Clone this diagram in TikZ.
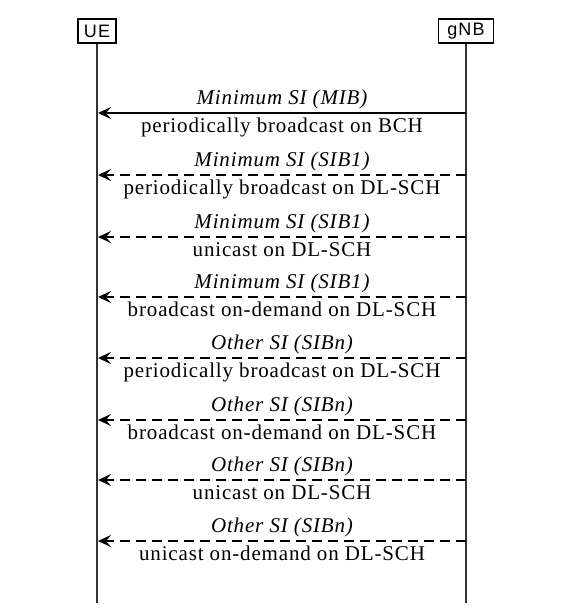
\documentclass[tikz,border=0pt]{standalone}
\usepackage{fontspec}
\setmainfont{Liberation Serif}[LetterSpace=4]
\newfontfamily\boxfont{Liberation Sans}[LetterSpace=6]
\usetikzlibrary{arrows.meta}
\tikzset{
  entity/.style={draw,line width=1.3pt,inner sep=0pt,minimum height=24pt,font=\boxfont\fontsize{18}{20}\selectfont},
  msgtop/.style={font=\itshape\fontsize{21}{23}\selectfont,anchor=base,yshift=9pt,inner sep=0pt},
  msgbot/.style={font=\fontsize{21}{23}\selectfont,anchor=base,yshift=-19pt,inner sep=0pt},
  life/.style={line width=1.7pt,black!80},
  sig/.style={line width=1.5pt,-{Stealth[length=13pt,width=12pt,inset=5pt]}},
  sigd/.style={sig,dash pattern=on 10pt off 6pt}
}
\begin{document}
\begin{tikzpicture}[x=1pt,y=-1pt]
              \useasboundingbox (0,0) rectangle (572,616);
              \node[entity,minimum width=38pt](ue)at(97,31){UE};
              \node[entity,minimum width=55pt](gnb)at(466,31){gNB};
              \coordinate(ueend)at(97,603);
              \coordinate(gnbend)at(466,603);
              \draw[life](ue)--(ueend);
              \draw[life](gnb)--(gnbend);
              % minimum SI
              \coordinate(g1)at(466,113);\coordinate(u1)at(98,113);
              \draw[sig](g1)--(u1) node[midway,msgtop]{Minimum SI (MIB)} node[midway,msgbot]{periodically broadcast on BCH};
              \coordinate(g2)at(466,175);\coordinate(u2)at(98,175);
              \draw[sigd](g2)--(u2) node[midway,msgtop]{Minimum SI (SIB1)} node[midway,msgbot]{periodically broadcast on DL-SCH};
              \coordinate(g3)at(466,237);\coordinate(u3)at(98,237);
              \draw[sigd](g3)--(u3) node[midway,msgtop]{Minimum SI (SIB1)} node[midway,msgbot]{unicast on DL-SCH};
              \coordinate(g4)at(466,297);\coordinate(u4)at(98,297);
              \draw[sigd](g4)--(u4) node[midway,msgtop]{Minimum SI (SIB1)} node[midway,msgbot]{broadcast on-demand on DL-SCH};
              % other SI
              \coordinate(g5)at(466,358);\coordinate(u5)at(98,358);
              \draw[sigd](g5)--(u5) node[midway,msgtop]{Other SI (SIBn)} node[midway,msgbot]{periodically broadcast on DL-SCH};
              \coordinate(g6)at(466,420);\coordinate(u6)at(98,420);
              \draw[sigd](g6)--(u6) node[midway,msgtop]{Other SI (SIBn)} node[midway,msgbot]{broadcast on-demand on DL-SCH};
              \coordinate(g7)at(466,480);\coordinate(u7)at(98,480);
              \draw[sigd](g7)--(u7) node[midway,msgtop]{Other SI (SIBn)} node[midway,msgbot]{unicast on DL-SCH};
              \coordinate(g8)at(466,541);\coordinate(u8)at(98,541);
              \draw[sigd](g8)--(u8) node[midway,msgtop]{Other SI (SIBn)} node[midway,msgbot]{unicast on-demand on DL-SCH};
            \end{tikzpicture}
\end{document}
